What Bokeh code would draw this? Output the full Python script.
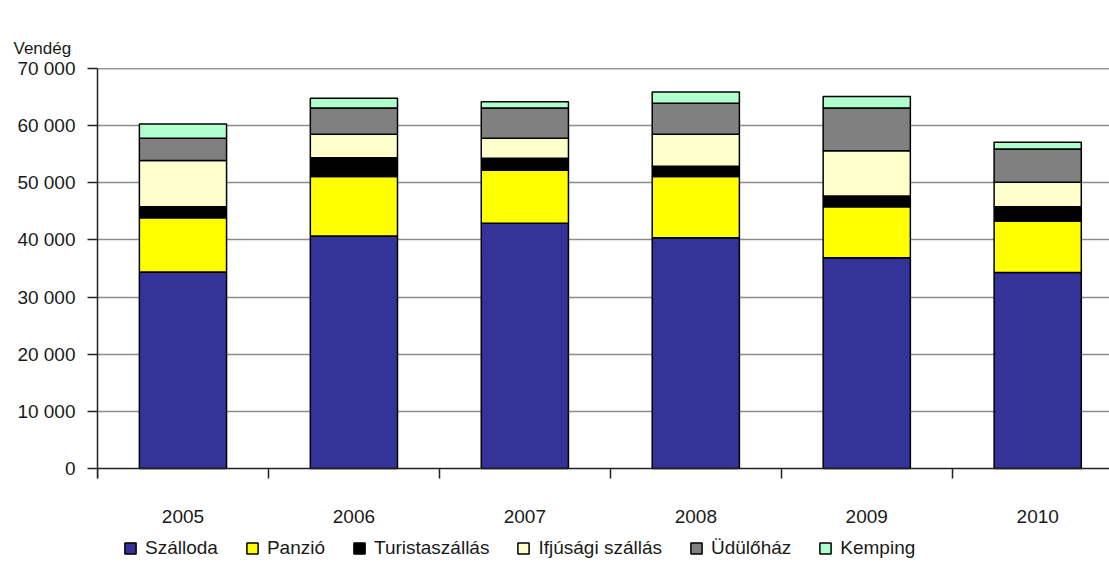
from bokeh.plotting import figure
from bokeh.models import (ColumnDataSource, Range1d, FixedTicker, Legend, LegendItem,
                          Span, Title)
from bokeh.core.properties import value
from bokeh.embed import file_html
from bokeh.resources import INLINE

years = ["2005", "2006", "2007", "2008", "2009", "2010"]
szalloda = [34400, 40700, 42900, 40400, 36900, 34300]
panzio = [9500, 10400, 9300, 10700, 8900, 9000]
turista = [1900, 3300, 2100, 1800, 1900, 2500]
ifjusagi = [8100, 4100, 3500, 5600, 7900, 4300]
udulohaz = [3900, 4600, 5300, 5400, 7500, 5800]
kemping = [2500, 1700, 1100, 2000, 2000, 1200]

series = ["Szálloda", "Panzió", "Turistaszállás", "Ifjúsági szállás", "Üdülőház", "Kemping"]
keys = ["szalloda", "panzio", "turista", "ifjusagi", "udulohaz", "kemping"]
colors = ["#333399", "#FFFF00", "#000000", "#FFFFCC", "#808080", "#AEFFCC"]
y_ticks = [0, 10000, 20000, 30000, 40000, 50000, 60000, 70000]

xs = list(range(1, len(years) + 1))
source = ColumnDataSource(dict(x=xs, szalloda=szalloda, panzio=panzio, turista=turista,
                               ifjusagi=ifjusagi, udulohaz=udulohaz, kemping=kemping))

FONT = "Liberation Sans"
TXT = "#1a1a1a"

# frame: 400 px for 0..70 000, plus an extra strip below the zero line
# that holds the year labels and the legend
PLOT_PX = 400
EXTRA_PX = 97
y_max = 70000
y_min = -y_max * EXTRA_PX / PLOT_PX

p = figure(output_backend="svg", toolbar_location=None,
           frame_width=1012, frame_height=PLOT_PX + EXTRA_PX,
           x_range=Range1d(0.5, 6.42), y_range=Range1d(y_min, y_max),
           min_border_left=97, min_border_top=68, min_border_right=0, min_border_bottom=0)
p.outline_line_color = None
p.background_fill_color = "white"

renderers = p.vbar_stack(keys, x="x", width=0.51, source=source, fill_color=colors,
                         line_color="black", line_width=1.5)

# x axis drawn on the zero line; ticks at category boundaries
p.xaxis.fixed_location = 0
p.xaxis.ticker = FixedTicker(ticks=[], minor_ticks=[0.5 + i for i in range(7)])
p.xaxis.major_label_text_font_size = "0px"
p.xaxis.major_tick_out = 0
p.xaxis.major_tick_in = 0
p.xaxis.minor_tick_out = 10
p.xaxis.minor_tick_in = 0
p.xaxis.minor_tick_line_color = "#222222"
p.xaxis.minor_tick_line_width = 1.5
p.xaxis.axis_line_color = "#222222"
p.xaxis.axis_line_width = 1.5
p.xaxis.major_label_standoff = 0

# year labels under each category
p.text(x=xs, y=[0] * len(xs), text=years, y_offset=48,
       text_font=value(FONT), text_font_size="19px", text_color=TXT,
       text_align="center", text_baseline="middle")

p.yaxis.ticker = FixedTicker(ticks=y_ticks)
p.yaxis.bounds = (y_min * 10 / EXTRA_PX, y_max)
p.yaxis.major_label_overrides = {t: (f"{t:,}".replace(",", " ")) for t in y_ticks}
p.yaxis.major_tick_out = 10
p.yaxis.major_tick_in = 0
p.yaxis.minor_tick_line_color = None
p.yaxis.major_tick_line_color = "#222222"
p.yaxis.major_tick_line_width = 1.5
p.yaxis.axis_line_color = "#222222"
p.yaxis.axis_line_width = 1.5
p.yaxis.major_label_standoff = 12
p.yaxis.major_label_text_font = FONT
p.yaxis.major_label_text_font_size = "19px"
p.yaxis.major_label_text_color = TXT

p.xgrid.grid_line_color = None
p.ygrid.ticker = FixedTicker(ticks=y_ticks[1:-1])
p.ygrid.grid_line_color = "#8c8c8c"
p.ygrid.grid_line_width = 1.5
p.add_layout(Span(location=y_max, dimension="width", line_color="#333333", line_width=1.5))

p.add_layout(Title(text="Vendég", align="left", offset=-84, standoff=22,
                   text_font=FONT, text_font_size="17px", text_font_style="normal",
                   text_color=TXT), "above")

legend = Legend(items=[LegendItem(label=s, renderers=[r]) for s, r in zip(series, renderers)],
                orientation="horizontal", location=(26, 6),
                label_text_font=FONT, label_text_font_size="19px",
                label_text_color=TXT, label_standoff=8,
                glyph_width=14, glyph_height=14, spacing=27, padding=0, margin=0,
                border_line_color=None, background_fill_alpha=0)
p.add_layout(legend)

open("out.html", "w").write(file_html(p, INLINE))
